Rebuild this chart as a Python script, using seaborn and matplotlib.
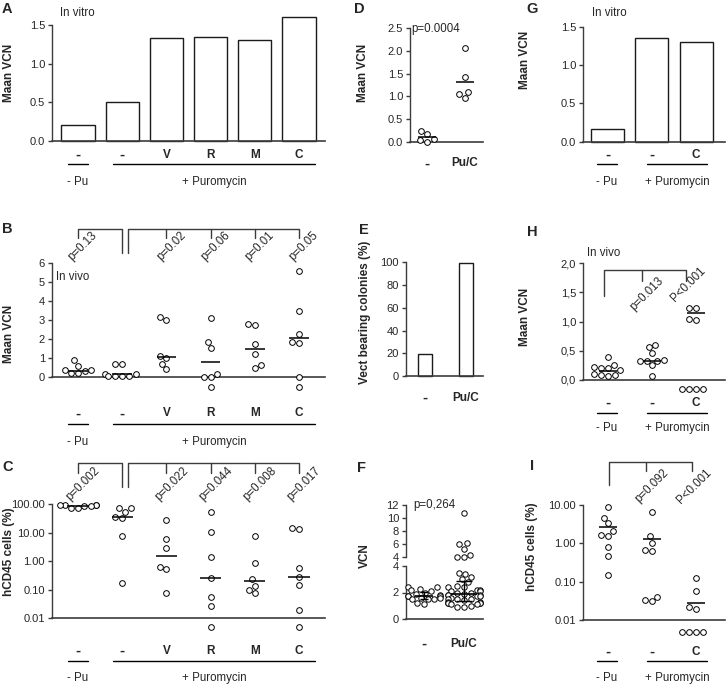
import numpy as np
import pandas as pd
import matplotlib
matplotlib.use("Agg")
import matplotlib.pyplot as plt
import matplotlib.transforms as mtrans
import seaborn as sns

# ---------------- data ----------------
abc_groups = ["-Pu", "Pu", "V", "R", "M", "C"]
abc_labels = ["-", "-", "V", "R", "M", "C"]
a_vcn = [0.21, 0.50, 1.33, 1.34, 1.30, 1.60]

b_neg_pu = [0.18, 0.58, 0.35, 0.88, 0.18, 0.35, 0.30]
b_pu = [0.05, 0.14, 0.65, 0.05, 0.05, 0.65, 0.05, 0.14]
b_v = [0.67, 2.98, 1.09, 0.39, 3.16, 0.96]
b_r = [1.82, 0.0, 0.14, 3.10, 1.49, 0.0, -0.53]
b_m = [0.47, 2.70, 1.72, 1.19, 2.80, 0.61]
b_c = [1.75, 0.0, 5.56, 3.47, 2.23, 1.82, -0.53]
b_lines = [0.32, 0.14, 1.05, 0.80, 1.44, 2.02]
b_pvals = ["p=0.13", "p=0.02", "p=0.06", "p=0.01", "p=0.05"]

c_neg_pu = [95, 72, 70, 88, 90, 88, 90, 92]
c_pu = [74, 54, 33, 7.6, 0.17, 70, 36]
c_v = [6.1, 27.5, 2.96, 0.64, 0.52, 0.079]
c_r = [10.5, 0.054, 1.4, 0.005, 54, 0.26, 0.026]
c_m = [0.10, 7.6, 0.079, 0.89, 0.14, 0.23]
c_c = [14.8, 0.15, 0.020, 0.005, 13.0, 0.58, 0.29]
c_lines = [88, 36, 1.56, 0.26, 0.21, 0.28]
c_pvals = ["p=0.002", "p=0.022", "p=0.044", "p=0.008", "p=0.017"]

def_groups = ["-", "Pu/C"]
d_neg = [0.05, 0.16, 0.04, 0.24, 0.0]
d_puc = [1.04, 2.06, 1.42, 1.09, 0.96]
d_lines = [0.11, 1.32]
d_pval = "p=0.0004"

e_pct = [19, 99]

f_neg = [2.4, 2.4, 2.3, 2.2, 2.1, 2.0, 1.9, 1.8, 1.7, 1.7, 1.7, 1.6, 1.6,
         1.5, 1.5, 1.5, 1.2, 1.1]
f_puc = [10.8, 6.2, 6.0, 5.3, 4.4, 4.1, 4.1,
         3.5, 3.4, 3.2, 3.0, 2.8, 2.5, 2.4, 2.4, 2.2, 2.2, 2.1, 2.1, 2.0, 2.0,
         1.9, 1.8, 1.8, 1.8, 1.7, 1.7, 1.6, 1.5, 1.5, 1.5, 1.4, 1.3, 1.3, 1.2,
         1.2, 1.2, 1.2, 1.1, 1.1, 1.0, 0.9, 0.9]
f_pval = "p=0,264"

ghi_groups = ["-Pu", "Pu", "C"]
ghi_labels = ["-", "-", "C"]
g_vcn = [0.17, 1.35, 1.30]

h_neg_pu = [0.39, 0.26, 0.23, 0.21, 0.17, 0.20, 0.10, 0.09, 0.08, 0.07]
h_pu = [0.57, 0.60, 0.47, 0.33, 0.33, 0.35, 0.25, 0.07, 0.33]
h_c = [1.24, 1.23, 1.05, 1.03, -0.15, -0.15, -0.15, -0.15]
h_lines = [0.16, 0.33, 1.14]
h_pvals = ["p=0.013", "P<0.001"]

i_neg_pu = [8.7, 4.5, 3.3, 2.1, 1.65, 1.6, 0.79, 0.47, 0.15]
i_pu = [6.6, 1.55, 1.05, 0.66, 0.64, 0.041, 0.031, 0.033]
i_c = [0.126, 0.058, 0.0195, 0.022, 0.0049, 0.0049, 0.0049, 0.0049]
i_lines = [2.6, 1.29, 0.028]
i_pvals = ["p=0.092", "P<0.001"]

# ---------------- setup ----------------
sns.set_theme(style="ticks")
plt.rcParams["font.family"] = ["Liberation Sans", "DejaVu Sans"]

W, H = 726, 685
fig = plt.figure(figsize=(W / 100, H / 100), dpi=100)
fig.patch.set_facecolor("white")
SP = "#3c3c3c"
TICK_FS = 8
CAT_FS = 8.5
GRP_FS = 8.3
LAB_FS = 8.5
DOT = 4.1


def Y(py):
    return 1 - py / H


def add_ax(x0, y0, x1, y1):
    return fig.add_axes([x0 / W, 1 - y1 / H, (x1 - x0) / W, (y1 - y0) / H])


def blended(ax):
    return mtrans.blended_transform_factory(ax.transData, fig.transFigure)


def long_df(groups, series):
    return pd.DataFrame({"g": np.repeat(groups, [len(s) for s in series]),
                         "v": np.concatenate([np.asarray(s, float) for s in series])})


def style(ax, xlim, ylim, ybounds, zero, ticks, labels, log=False, bottom=True):
    if log:
        ax.set_yscale("log")
    ax.set_xlim(*xlim)
    ax.set_ylim(*ylim)
    ax.spines["top"].set_visible(False)
    ax.spines["right"].set_visible(False)
    ax.spines["left"].set_bounds(*ybounds)
    ax.spines["left"].set_color(SP)
    ax.spines["left"].set_linewidth(1.0)
    if bottom:
        ax.spines["bottom"].set_position(("data", zero))
        ax.spines["bottom"].set_color(SP)
        ax.spines["bottom"].set_linewidth(1.2)
    else:
        ax.spines["bottom"].set_visible(False)
    ax.set_xticks([])
    ax.set_xlabel("")
    ax.set_ylabel("")
    ax.set_yticks(ticks)
    ax.set_yticklabels(labels)
    ax.minorticks_off()
    ax.tick_params(axis="y", left=True, length=3, width=1, color=SP,
                   labelsize=TICK_FS, pad=2, direction="out")
    ax.tick_params(axis="x", bottom=False)
    ax.patch.set_alpha(0)


def under(ax, labels, y_cat, groups=None, y_line=None, y_grp=None):
    tr = blended(ax)
    for p, l in enumerate(labels):
        ax.text(p, Y(y_cat), l, transform=tr, ha="center", va="center",
                fontsize=11 if l == "-" else CAT_FS, fontweight="bold")
    if groups:
        for a, b, lab in groups:
            ax.plot([a, b], [Y(y_line)] * 2, transform=tr, color="black",
                    lw=1, clip_on=False)
            ax.text((a + b) / 2, Y(y_grp), lab, transform=tr, ha="center",
                    va="center", fontsize=GRP_FS)


def swarm(ax, df, order, log=False, size=DOT):
    sns.swarmplot(data=df, x="g", y="v", order=order, ax=ax, color="white",
                  edgecolor="black", linewidth=0.7, size=size,
                  log_scale=True if log else None, warn_thresh=1)
    for c in ax.collections:
        c.set_clip_on(False)
        c.set_zorder(3)


def medians(ax, values, hw):
    pos = np.arange(len(values))
    ax.hlines(values, pos - hw, pos + hw, color="black", lw=1.1, zorder=4,
              clip_on=False)


def bars(ax, groups, values, width):
    sns.barplot(x=groups, y=values, order=groups, ax=ax, color="white",
                saturation=1, edgecolor="#1a1a1a", linewidth=1.0, width=width)
    for p in ax.patches:
        p.set_clip_on(False)


def brackets_abc(ax, ytop, ytick, ydrop, ytext, pvals):
    tr = blended(ax)
    kw = dict(transform=tr, color=SP, lw=1, clip_on=False)
    ax.plot([0, 0, 1.0, 1.0], [Y(ytick), Y(ytop), Y(ytop), Y(ydrop)], **kw)
    ax.plot([1.14, 1.14, 5, 5], [Y(ydrop), Y(ytop), Y(ytop), Y(ytick)], **kw)
    for p in [2, 3, 4]:
        ax.plot([p, p], [Y(ytop), Y(ytick)], **kw)
    for p, t in zip([0, 2, 3, 4, 5], pvals):
        ax.text(p + 0.115, Y(ytext), t, transform=tr, rotation=45,
                rotation_mode="anchor", ha="center", va="center",
                fontsize=GRP_FS)


def ylab(x, y, s):
    fig.text(x / W, Y(y), s, rotation=90, ha="center", va="center",
             fontsize=LAB_FS, fontweight="bold")


def letter(x, y, s):
    fig.text(x / W, Y(y), s, ha="center", va="center", fontsize=10.5,
             fontweight="bold")


ABC_X = (-0.588, 5.588)
GHI_X = (-0.568, 2.659)
ABC_GROUPS = [(-0.23, 0.23, "- Pu"), (0.79, 5.36, "+ Puromycin")]
GHI_GROUPS = [(-0.25, 0.2, "- Pu"), (0.89, 2.24, "+ Puromycin")]

# ---------------- A ----------------
ax = add_ax(52, 13.4, 325, 141)
bars(ax, abc_groups, a_vcn, 0.75)
style(ax, ABC_X, (0, 1.65), (0, 1.5), 0, [0, 0.5, 1.0, 1.5],
      ["0.0", "0.5", "1.0", "1.5"])
under(ax, abc_labels, 155, ABC_GROUPS, 164.3, 182)
fig.text(60 / W, Y(13.3), "In vitro", fontsize=GRP_FS, va="center")
ylab(9, 73, "Maan VCN")
letter(7, 9, "A")

# ---------------- B ----------------
ax = add_ax(52, 262.7, 325, 391.9)
swarm(ax, long_df(abc_groups, [b_neg_pu, b_pu, b_v, b_r, b_m, b_c]), abc_groups)
medians(ax, b_lines, 0.22)
brackets_abc(ax, 229, 238, 253, 246, b_pvals)
style(ax, ABC_X, (-0.8, 6.0), (0, 6), 0, list(range(7)),
      [str(i) for i in range(7)])
under(ax, abc_labels, 413.3, ABC_GROUPS, 424, 441.7)
fig.text(56 / W, Y(276.7), "In vivo", fontsize=GRP_FS, va="center")
ylab(9, 334, "Maan VCN")
letter(7, 229, "B")

# ---------------- C ----------------
ax = add_ax(52, 502.6, 325, 631.2)
swarm(ax, long_df(abc_groups, [c_neg_pu, c_pu, c_v, c_r, c_m, c_c]),
      abc_groups, log=True)
medians(ax, c_lines, 0.24)
brackets_abc(ax, 462.7, 472.7, 486.7, 484, c_pvals)
style(ax, ABC_X, (10 ** -2.45, 10 ** 2.05), (0.01, 100), 0.01,
      [0.01, 0.1, 1, 10, 100], ["0.01", "0.10", "1.00", "10.00", "100.00"],
      log=True)
under(ax, abc_labels, 650.7, ABC_GROUPS, 660.7, 678)
ylab(9, 552, "hCD45 cells (%)")
letter(8, 467, "C")

# ---------------- D ----------------
ax = add_ax(410, 26.0, 483, 147.1)
swarm(ax, long_df(def_groups, [d_neg, d_puc]), def_groups)
medians(ax, d_lines, 0.24)
style(ax, (-0.447, 1.474), (-0.12, 2.55), (0, 2.5), 0,
      [0, 0.5, 1.0, 1.5, 2.0, 2.5], ["0.0", "0.5", "1.0", "1.5", "2.0", "2.5"])
under(ax, def_groups, 163.3)
fig.text(411.7 / W, Y(29.3), d_pval, fontsize=GRP_FS, va="center")
ylab(363, 73, "Maan VCN")
letter(359, 9, "D")

# ---------------- E ----------------
ax = add_ax(406, 260.0, 483, 376)
bars(ax, def_groups, e_pct, 0.34)
style(ax, (-0.463, 1.415), (0, 102), (0, 100), 0,
      [0, 20, 40, 60, 80, 100], ["0", "20", "40", "60", "80", "100"])
under(ax, def_groups, 398)
ylab(365, 312, "Vect bearing colonies (%)")
letter(364, 230, "E")

# ---------------- F ----------------
f_df = long_df(def_groups, [f_neg, f_puc])
F_X = (-0.45, 1.475)
axl = add_ax(406, 566, 483, 619)
swarm(axl, f_df[f_df.v <= 4], def_groups, size=3.9)
for k, vals in enumerate([f_neg, f_puc]):
    q1, med, q3 = np.percentile(vals, [25, 50, 75])
    hw = 0.22 if k == 0 else 0.33
    cw = 0.1 if k == 0 else 0.19
    axl.plot([k, k], [q1, q3], color="black", lw=1, zorder=4)
    axl.hlines([q1, q3], k - cw, k + cw, color="black", lw=1, zorder=4)
    axl.hlines(med, k - hw, k + hw, color="black", lw=1.2, zorder=4)
style(axl, F_X, (0, 4), (0, 4), 0, [0, 2, 4], ["0", "2", "4"])
under(axl, def_groups, 644)
axu = add_ax(406, 503.35, 483, 557.3)
swarm(axu, f_df[f_df.v > 4], def_groups, size=3.9)
style(axu, F_X, (4, 12.3), (4, 12), 4, [4, 6, 8, 10, 12],
      ["4", "6", "8", "10", "12"], bottom=False)
fig.text(413 / W, Y(505.3), f_pval, fontsize=GRP_FS, va="center")
ylab(365, 556, "VCN")
letter(362, 468, "F")

# ---------------- G ----------------
ax = add_ax(583, 22.9, 725, 141.7)
bars(ax, ghi_groups, g_vcn, 0.75)
style(ax, GHI_X, (0, 1.55), (0, 1.5), 0, [0, 0.5, 1.0, 1.5],
      ["0.0", "0.5", "1.0", "1.5"])
under(ax, ghi_labels, 155, GHI_GROUPS, 164.3, 182)
fig.text(592 / W, Y(13.3), "In vitro", fontsize=GRP_FS, va="center")
ylab(525, 60, "Maan VCN")
letter(532, 9, "G")

# ---------------- H ----------------
ax = add_ax(583, 263.3, 725, 396.3)
swarm(ax, long_df(ghi_groups, [h_neg_pu, h_pu, h_c]), ghi_groups)
medians(ax, h_lines, 0.2)
kw = dict(color=SP, lw=1, clip_on=False)
ax.plot([-0.09, -0.09, 1.77, 1.77], [1.44, 1.89, 1.89, 1.70], **kw)
ax.plot([0.77, 0.77], [1.89, 1.70], **kw)
for (x, y), t in zip([(0.89, 1.47), (1.82, 1.64)], h_pvals):
    ax.text(x, y, t, rotation=45, rotation_mode="anchor", ha="center",
            va="center", fontsize=GRP_FS)
style(ax, GHI_X, (-0.28, 2.0), (0, 2), 0, [0, 0.5, 1.0, 1.5, 2.0],
      ["0,0", "0,5", "1,0", "1,5", "2,0"])
under(ax, ghi_labels, 402.7, GHI_GROUPS, 412.7, 428.3)
fig.text(587 / W, Y(252.7), "In vivo", fontsize=GRP_FS, va="center")
ylab(525, 317, "Maan VCN")
letter(532, 232, "H")

# ---------------- I ----------------
ax = add_ax(583, 503.1, 725, 637.25)
swarm(ax, long_df(ghi_groups, [i_neg_pu, i_pu, i_c]), ghi_groups, log=True)
medians(ax, i_lines, 0.21)
tr = blended(ax)
kw = dict(transform=tr, color=SP, lw=1, clip_on=False)
ax.plot([0.02, 0.02, 1.9, 1.9], [Y(485), Y(461.7), Y(461.7), Y(471)], **kw)
ax.plot([0.86, 0.86], [Y(461.7), Y(471)], **kw)
for x, t in zip([0.99, 1.97], i_pvals):
    ax.text(x, Y(486), t, transform=tr, rotation=45, rotation_mode="anchor",
            ha="center", va="center", fontsize=GRP_FS)
style(ax, GHI_X, (10 ** -2.45, 10 ** 1.05), (0.01, 10), 0.01,
      [0.01, 0.1, 1, 10], ["0.01", "0.10", "1.00", "10.00"], log=True)
under(ax, ghi_labels, 651.7, GHI_GROUPS, 660.7, 678.3)
ylab(532, 547, "hCD45 cells (%)")
letter(532, 466, "I")

fig.savefig("out.png", dpi=100, facecolor="white")
